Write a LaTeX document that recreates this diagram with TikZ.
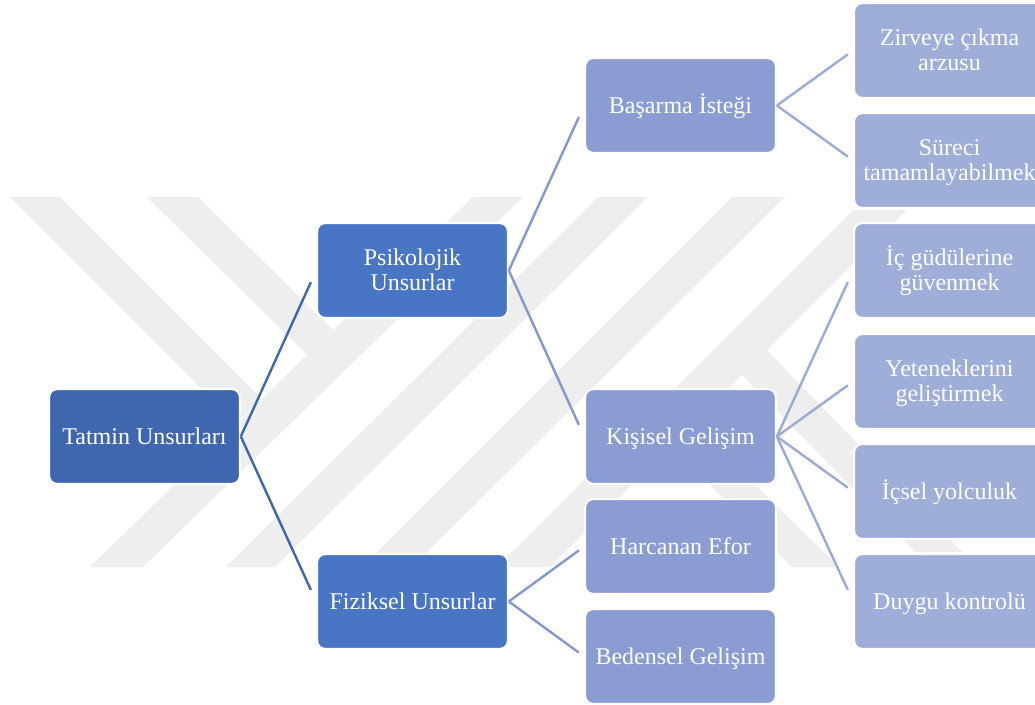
\documentclass[tikz,border=0pt]{standalone}
\usepackage{fontspec}
\setmainfont{Liberation Serif}
\definecolor{rootblue}{RGB}{63, 103, 175}
\definecolor{mainblue}{RGB}{72, 117, 196}
\definecolor{midblue}{RGB}{138, 156, 210}
\definecolor{leafblue}{RGB}{159, 173, 217}
\definecolor{linemid}{RGB}{132, 151, 208}
\definecolor{lineleaf}{RGB}{155, 170, 216}
\definecolor{markgray}{RGB}{238, 238, 238}
\usetikzlibrary{calc}
\newcommand{\oneline}[1]{\rule{0pt}{16pt}#1\rule[-4pt]{0pt}{4pt}}
\newcommand{\twolines}[2]{\rule{0pt}{14.5pt}#1\\#2\rule[-4pt]{0pt}{4pt}}
\tikzset{
  box/.style={draw=white, line width=1.5pt, rounded corners=6pt, minimum width=143pt, minimum height=71pt,
    align=center, inner sep=0pt, text=white, font=\fontsize{18}{18.75}\selectfont},
  rootbox/.style={box, fill=rootblue},
  mainbox/.style={box, fill=mainblue},
  midbox/.style={box, fill=midblue},
  leafbox/.style={box, fill=leafblue},
  markshape/.style={fill=markgray, draw=none},
  linkroot/.style={draw=rootblue, line width=1.8pt},
  linkmid/.style={draw=linemid, line width=1.8pt},
  linkleaf/.style={draw=lineleaf, line width=1.8pt}
}

\begin{document}
\begin{tikzpicture}[x=0.75pt, y=-0.75pt]
  \useasboundingbox (0,0) rectangle (1035,704);
  \clip (0,0) rectangle (1035,704);

  % Background mark
  \path[markshape] (10,197) -- (60,197) -- (261,398) -- (236,423) -- cycle;
  \path[markshape] (147,197) -- (198,197) -- (333,330) -- (473,197) -- (523,197) -- (143,567) -- (90,567) -- (307,355) -- cycle;
  \path[markshape] (598,197) -- (648,197) -- (275,567) -- (226,567) -- cycle;
  \path[markshape] (732,197) -- (785,197) -- (412,567) -- (362,567) -- cycle;
  \path[markshape] (853,210) -- (907,210) -- (767,350) -- (962,552) -- (915,552) -- (742,375) -- (550,567) -- (497,567) -- cycle;
  \path[markshape] (693,424) -- (839,567) -- (792,567) -- (671,446) -- cycle;

  % Nodes
  \node[rootbox] (root) at (144.5, 436.5) {\oneline{Tatmin Unsurları}};

  \node[mainbox] (psik) at (412.5, 270.5) {\twolines{Psikolojik}{Unsurlar}};
  \node[mainbox] (fizik) at (412.5, 601.5) {\oneline{Fiziksel Unsurlar}};

  \node[midbox] (basarma) at (680.5, 105.5) {\oneline{Başarma İsteği}};
  \node[midbox] (kisisel) at (680.5, 436.5) {\oneline{Kişisel Gelişim}};
  \node[midbox] (efor) at (680.5, 546.5) {\oneline{Harcanan Efor}};
  \node[midbox] (beden) at (680.5, 656.5) {\oneline{Bedensel Gelişim}};

  \node[leafbox] (zirve) at (949.5, 50.5) {\twolines{Zirveye çıkma}{arzusu}};
  \node[leafbox] (surec) at (949.5, 160.5) {\twolines{Süreci}{tamamlayabilmek}};
  \node[leafbox] (gudu) at (949.5, 270.5) {\twolines{İç güdülerine}{güvenmek}};
  \node[leafbox] (yetenek) at (949.5, 381.5) {\twolines{Yeteneklerini}{geliştirmek}};
  \node[leafbox] (yolculuk) at (949.5, 491.5) {\oneline{İçsel yolculuk}};
  \node[leafbox] (duygu) at (949.5, 601.5) {\oneline{Duygu kontrolü}};

  % Connectors
  \draw[linkroot] (root.east) -- ($(root.east)!0.93!(psik.west)$);
  \draw[linkroot] (root.east) -- ($(root.east)!0.93!(fizik.west)$);

  \draw[linkmid] (psik.east) -- ($(psik.east)!0.93!(basarma.west)$);
  \draw[linkmid] (psik.east) -- ($(psik.east)!0.93!(kisisel.west)$);
  \draw[linkmid] (fizik.east) -- ($(fizik.east)!0.93!(efor.west)$);
  \draw[linkmid] (fizik.east) -- ($(fizik.east)!0.93!(beden.west)$);

  \draw[linkleaf] (basarma.east) -- ($(basarma.east)!0.93!(zirve.west)$);
  \draw[linkleaf] (basarma.east) -- ($(basarma.east)!0.93!(surec.west)$);
  \draw[linkleaf] (kisisel.east) -- ($(kisisel.east)!0.93!(gudu.west)$);
  \draw[linkleaf] (kisisel.east) -- ($(kisisel.east)!0.93!(yetenek.west)$);
  \draw[linkleaf] (kisisel.east) -- ($(kisisel.east)!0.93!(yolculuk.west)$);
  \draw[linkleaf] (kisisel.east) -- ($(kisisel.east)!0.93!(duygu.west)$);
\end{tikzpicture}
\end{document}
